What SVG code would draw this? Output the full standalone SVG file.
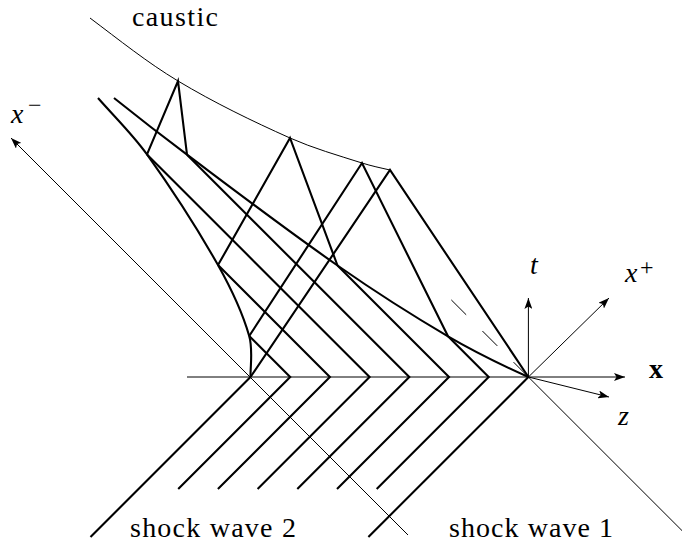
<svg xmlns="http://www.w3.org/2000/svg" width="682" height="548" viewBox="0 0 682 548">
<style>
.thin{fill:none;stroke:#000;stroke-width:1}
.thick{fill:none;stroke:#000;stroke-width:2.1}
.lbl{font-family:"Liberation Serif","Times New Roman",serif;font-size:28px;fill:#000}
.it{font-style:italic}
</style>
<defs>
<marker id="arr" viewBox="0 0 11 8" refX="11" refY="4" markerWidth="11" markerHeight="8" markerUnits="userSpaceOnUse" orient="auto">
<path d="M0,0 L11,4 L0,8 L2.5,4 Z" fill="#000"/>
</marker>
</defs>
<rect width="682" height="548" fill="#fff"/>
<g id="axes">
<path class="thin" d="M187,377 H625" marker-end="url(#arr)"/>
<path class="thin" d="M528.4,377 V298" marker-end="url(#arr)"/>
<path class="thin" d="M528.4,377 L609,298" marker-end="url(#arr)"/>
<path class="thin" d="M528.4,377 L609,397" marker-end="url(#arr)"/>
<path class="thin" d="M408,535 L11,138" marker-end="url(#arr)"/>
<path class="thin" d="M528.4,377 L682,530.6"/>
<path class="thin" d="M528.4,377 L449,297.6" stroke-dasharray="21 23"/>
</g>
<g id="caustic">
<path class="thin" d="M90,18 C118.9,39.7 147.1,62.4 178,81 C213.9,102.5 251.7,120.9 290,138 C313.2,148.3 337.8,155.3 362,163 C371.2,165.9 380.6,167.9 390,170"/>
</g>
<g id="shock-waves">
<polyline class="thick" points="90.5,537 250.5,377"/>
<polyline class="thick" points="178.2,489 290.2,377 249.2,336"/>
<polyline class="thick" points="217.9,489 329.9,377 218,265.1"/>
<polyline class="thick" points="257.6,489 369.6,377 147,154.4"/>
<polyline class="thick" points="297.3,489 409.3,377 187,154.7"/>
<polyline class="thick" points="337,489 449,377 337.5,265.5"/>
<polyline class="thick" points="376.7,489 488.7,377 448,336.3"/>
<polyline class="thick" points="368.4,537 528.4,377"/>
</g>
<g id="envelopes">
<path class="thick" d="M98,98 C114.4,116.7 132.5,134.2 147,154.4 C172.5,190 196.5,227 218,265.1 C230.6,287.6 242,311.2 249.2,336 C253,349.2 250.5,363.3 250.5,377"/>
<path class="thick" d="M114,98 C138.1,117.3 162.4,136.2 187,154.7 C236.8,192.1 286.4,229.9 337.5,265.5 C373.4,290.5 410.3,314.3 448,336.3 C473.9,351.4 501,364.7 528.4,377"/>
</g>
<g id="reflections">
<polyline class="thick" points="147,154.4 178,81 187,154.7"/>
<polyline class="thick" points="218,265.1 290,138 337.5,265.5"/>
<polyline class="thick" points="249.2,336 362,163 448,336.3"/>
<polyline class="thick" points="250.5,377 390,170 528.4,377"/>
</g>
<g id="labels">
<text class="lbl" x="132" y="26" font-size="26" textLength="86" lengthAdjust="spacing">caustic</text>
<text class="lbl"><tspan class="it" x="11" y="123">x</tspan><tspan x="28" y="113" font-size="24">−</tspan></text>
<text class="lbl it" x="530" y="274">t</text>
<text class="lbl"><tspan class="it" x="625" y="282">x</tspan><tspan x="640" y="275" font-size="24">+</tspan></text>
<text class="lbl" x="649" y="378" font-weight="bold" font-size="31">x</text>
<text class="lbl it" x="618" y="425">z</text>
<text class="lbl" x="130" y="537" textLength="166" lengthAdjust="spacing">shock wave 2</text>
<text class="lbl" x="449" y="537" textLength="164" lengthAdjust="spacing">shock wave 1</text>
</g>
</svg>
